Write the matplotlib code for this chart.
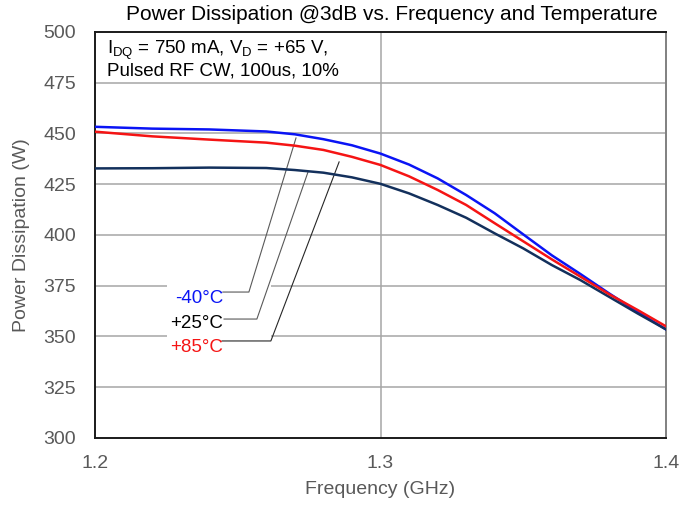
import matplotlib
matplotlib.use("Agg")
import matplotlib.pyplot as plt
from matplotlib.patches import Rectangle

plt.rcParams['font.family'] = ['Liberation Sans', 'DejaVu Sans']

freq = [1.20, 1.22, 1.24, 1.26, 1.27, 1.28, 1.29, 1.30, 1.31, 1.32, 1.33,
        1.34, 1.35, 1.36, 1.37, 1.38, 1.39, 1.40]
p_m40 = [453.3, 452.4, 452.0, 451.0, 449.6, 447.2, 444.2, 440.1, 434.7, 427.9,
         419.7, 410.7, 400.3, 390.0, 380.8, 371.3, 362.2, 353.5]
p_p25 = [432.8, 432.9, 433.2, 433.0, 432.0, 430.7, 428.4, 425.2, 420.5, 414.8,
         408.5, 400.8, 393.4, 385.2, 377.8, 369.6, 361.4, 353.5]
p_p85 = [450.9, 448.6, 447.0, 445.5, 444.0, 441.9, 438.5, 434.5, 428.9, 422.2,
         414.8, 405.8, 396.9, 388.0, 379.5, 370.9, 363.1, 355.0]

series = [("-40°C", p_m40, "#0A14F5"), ("+25°C", p_p25, "#13305C"), ("+85°C", p_p85, "#F51414")]
label_colors = ["#0A14F5", "#000000", "#F51414"]

yticks = [300, 325, 350, 375, 400, 425, 450, 475, 500]
xticks = [1.2, 1.3, 1.4]
xticklabels = ["1.2", "1.3", "1.4"]

fig = plt.figure(figsize=(6.97, 5.05), dpi=100)
ax = fig.add_axes([95/697, 1-438/505, (666-95)/697, (438-32)/505])

ax.set_xlim(1.2, 1.4)
ax.set_ylim(300, 500)
ax.set_yticks(yticks)
ax.set_xticks(xticks)
ax.set_xticklabels(xticklabels)
ax.tick_params(length=0, labelsize=14, colors="#595959")
ax.tick_params(axis='y', pad=13.5)
ax.tick_params(axis='x', pad=12)

for y in yticks[1:-1]:
    ax.axhline(y, color="#A6A6A6", lw=1.1, zorder=1)
ax.axvline(1.3, color="#A6A6A6", lw=1.1, zorder=1)

# white box behind temperature labels (breaks the gridlines)
ax.add_patch(Rectangle((1.2252, 341), 0.0364, 36.5, facecolor="white",
                       edgecolor="none", zorder=2))

for name, vals, c in series:
    ax.plot(freq, vals, color=c, lw=1.8, zorder=4, solid_joinstyle="round")

# leader lines and labels
leaders = [
    ((1.2448, 1.2539, 1.2704), (371.9, 371.9, 447.8)),
    ((1.2452, 1.2567, 1.2746), (358.6, 358.6, 431.0)),
    ((1.2445, 1.2616, 1.2855), (347.8, 347.8, 436.0)),
]
lcolors = ["#595959", "#595959", "#262626"]
for (xs, ys), lc in zip(leaders, lcolors):
    ax.plot(xs, ys, color=lc, lw=0.8, zorder=3)

label_y = [368.8, 356.6, 344.8]
for (name, vals, c), lcol, ly in zip(series, label_colors, label_y):
    ax.text(1.2448, ly, name, color=lcol, fontsize=13.5, ha="right", va="center", zorder=5)

ax.text(0.021, 0.985, "I$_{\\mathregular{DQ}}$ = 750 mA, V$_{\\mathregular{D}}$ = +65 V,\nPulsed RF CW, 100us, 10%",
        transform=ax.transAxes, fontsize=13.5, va="top", ha="left", color="#000000",
        linespacing=1.1, zorder=5)

for s in ["left", "bottom", "top"]:
    ax.spines[s].set_color("#1a1a1a")
    ax.spines[s].set_linewidth(1.4)
ax.spines["right"].set_color("#808080")
ax.spines["right"].set_linewidth(1.4)

ax.set_xlabel("Frequency (GHz)", fontsize=14, color="#595959", labelpad=7)
ax.set_ylabel("Power Dissipation (W)", fontsize=14, color="#595959", labelpad=10)
fig.text(392/697, 1-15/505, "Power Dissipation @3dB vs. Frequency and Temperature",
         ha="center", va="center", fontsize=15, color="#000000")

fig.savefig("out.png", dpi=100)
